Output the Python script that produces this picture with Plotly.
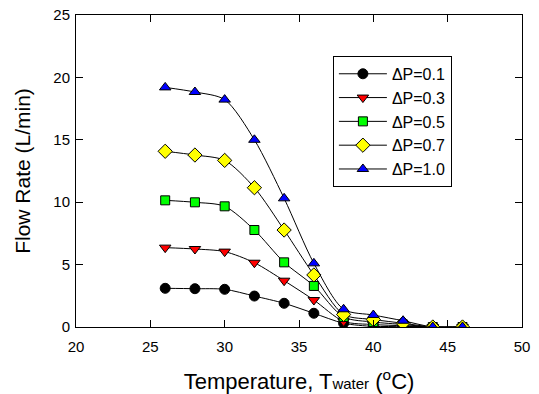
import plotly.graph_objects as go

temps = [26, 28, 30, 32, 34, 36, 38, 40, 42, 44, 46]
dp01 = [3.10, 3.07, 3.02, 2.48, 1.90, 1.10, 0.30, 0.05, 0.05, 0.0, 0.0]
dp03 = [6.36, 6.25, 6.04, 5.15, 3.71, 2.16, 0.45, 0.20, 0.10, 0.0, 0.0]
dp05 = [10.15, 9.99, 9.67, 7.77, 5.18, 3.29, 0.80, 0.40, 0.20, 0.0, 0.0]
dp07 = [14.08, 13.78, 13.35, 11.16, 7.77, 4.17, 1.00, 0.60, 0.30, 0.0, 0.0]
dp10 = [19.20, 18.83, 18.22, 15.00, 10.31, 5.10, 1.42, 0.96, 0.50, 0.0, 0.0]

names = ["ΔP=0.1", "ΔP=0.3", "ΔP=0.5", "ΔP=0.7", "ΔP=1.0"]
series = [dp01, dp03, dp05, dp07, dp10]
symbols = ["circle", "triangle-down", "square", "diamond", "triangle-up"]
colors = ["#000000", "#ff0000", "#00ff00", "#ffff00", "#0000ff"]
sizes = [10, 10, 9, 11, 10]

fig = go.Figure()
for n, ys, s, c, sz in zip(names, series, symbols, colors, sizes):
    fig.add_trace(go.Scatter(
        x=temps, y=ys, name=n, mode="lines+markers",
        line=dict(color="black", width=1, shape="spline", smoothing=0.8),
        marker=dict(symbol=s, color=c, size=sz, line=dict(color="black", width=1)),
    ))

font = "Liberation Sans, Arial, sans-serif"
fig.update_layout(
    width=539, height=394,
    margin=dict(l=76, r=17, t=15, b=67),
    paper_bgcolor="white", plot_bgcolor="white",
    font=dict(family=font, color="black", size=15),
    legend=dict(
        x=0.576, y=0.869, xanchor="left", yanchor="top",
        bordercolor="black", borderwidth=1, bgcolor="white",
        font=dict(size=16, family=font), itemwidth=48,
        tracegroupgap=0,
    ),
    xaxis=dict(
        range=[20, 50], tickvals=[20, 25, 30, 35, 40, 45, 50],
        showline=True, linecolor="black", linewidth=1, mirror="ticks",
        ticks="inside", ticklen=7, tickcolor="black", showgrid=False, zeroline=False,
        tickfont=dict(size=15), automargin=False, ticklabelstandoff=6,
        title=dict(text='Temperature, T<span style="font-size:15px">water</span> (<sup>o</sup>C)',
                   font=dict(size=22), standoff=20),
    ),
    yaxis=dict(
        range=[0, 25], tickvals=[0, 5, 10, 15, 20, 25],
        showline=True, linecolor="black", linewidth=1, mirror="ticks",
        ticks="inside", ticklen=7, tickcolor="black", showgrid=False, zeroline=False,
        tickfont=dict(size=15), automargin=False, ticklabelstandoff=2,
        title=dict(text="Flow Rate (L/min)", font=dict(size=21), standoff=16),
    ),
)
fig.write_html("out.html", config={"displayModeBar": False},
               post_script="document.body.style.margin='0';")
